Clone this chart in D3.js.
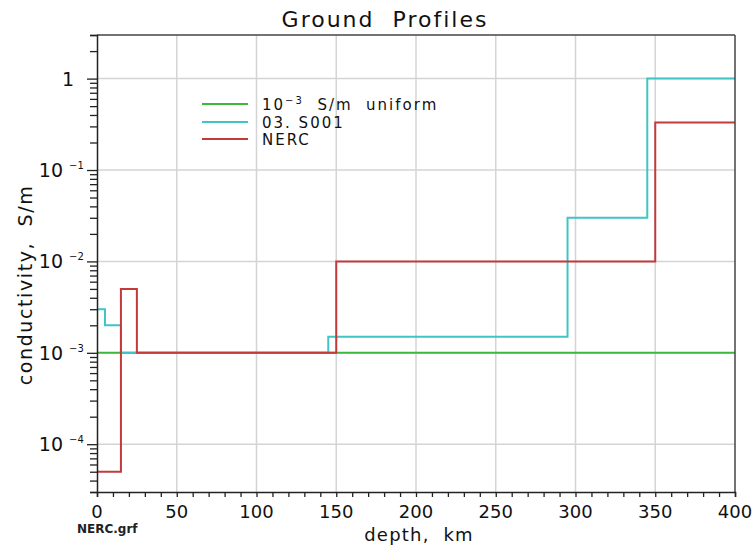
<!DOCTYPE html>
<html><head><meta charset="utf-8">
<script src="https://cdn.jsdelivr.net/npm/d3@7"></script>
<style>
body{margin:0;background:#fff;}
svg{display:block;font-family:"DejaVu Sans",sans-serif;}
text{white-space:pre;}
</style></head>
<body>
<svg id="c" width="756" height="547"></svg>
<script>
// ---- data ----
const xTicks = [0,50,100,150,200,250,300,350,400];
const yDecades = [1,0.1,0.01,0.001,0.0001];
const yDecadeExp = ["", "−1","−2","−3","−4"];
const seriesNames = ["10^-3 S/m uniform","03. S001","NERC"];
const uniformDepths = [0,400];
const uniformValues = [0.001];
const s001Depths = [0,5,15,145,295,345,400];
const s001Values = [0.003,0.002,0.001,0.0015,0.03,1];
const nercDepths = [0,15,25,150,350,400];
const nercValues = [0.00005,0.005,0.001,0.01,0.33];

const svg = d3.select("#c");
const L=97,R=735,T=35,B=492;
const x = d3.scaleLinear().domain([0,400]).range([L,R]);
const y = d3.scaleLog().domain([3e-5,3]).range([B,T]);

// grid
const g = svg.append("g");
g.selectAll(".vg").data(xTicks.slice(1,-1)).enter().append("line")
 .attr("x1",d=>x(d)).attr("x2",d=>x(d)).attr("y1",T).attr("y2",B)
 .attr("stroke","#d4d4d4").attr("stroke-width",1.5);
g.selectAll(".hg").data(yDecades).enter().append("line")
 .attr("x1",L).attr("x2",R).attr("y1",d=>y(d)).attr("y2",d=>y(d))
 .attr("stroke","#d4d4d4").attr("stroke-width",1.5);

// series
function steps(depths, values){
  const pts = values.map((v,i)=>({d:depths[i],v:v}));
  pts.push({d:depths[depths.length-1], v:values[values.length-1]});
  return pts;
}
const line = d3.line().x(p=>x(p.d)).y(p=>y(p.v)).curve(d3.curveStepAfter);
const series = [
  {pts:steps(uniformDepths,uniformValues), color:"#3cb83c"},
  {pts:steps(s001Depths,s001Values), color:"#40c4c4"},
  {pts:steps(nercDepths,nercValues), color:"#c23a3a"}
];
series.forEach(s=>{
  svg.append("path").attr("d",line(s.pts)).attr("fill","none")
   .attr("stroke",s.color).attr("stroke-width",2);
});

// frame
svg.append("line").attr("x1",L).attr("x2",R).attr("y1",T).attr("y2",T).attr("stroke","#444").attr("stroke-width",1.5);
svg.append("line").attr("x1",R).attr("x2",R).attr("y1",T).attr("y2",B).attr("stroke","#444").attr("stroke-width",1.5);

// x axis
const xAxis = d3.axisBottom(x).tickValues(d3.range(0,401,10)).tickSize(5).tickFormat("");
const xa = svg.append("g").attr("transform",`translate(0,${B})`).call(xAxis);
xa.select(".domain").attr("stroke","#222").attr("stroke-width",1.5);
xa.selectAll(".tick line").attr("stroke","#222").attr("stroke-width",1.3);
svg.selectAll(".xl").data(xTicks).enter().append("text")
 .attr("x",d=>x(d)).attr("y",518).attr("text-anchor","middle")
 .attr("font-size",18).attr("fill","#111").text(d=>d);

// y axis
const minor = [];
for(let e=-5;e<=0;e++){ for(let m=1;m<=9;m++){ const v=m*Math.pow(10,e); if(v>=3e-5 && v<=3) minor.push(v);} }
const yAxis = d3.axisLeft(y).tickValues(minor).tickSize(7).tickFormat("");
const ya = svg.append("g").attr("transform",`translate(${L},0)`).call(yAxis);
ya.select(".domain").attr("stroke","#222").attr("stroke-width",1.5);
ya.selectAll(".tick line").attr("stroke","#222").attr("stroke-width",1.3)
  .attr("x2",d=>yDecades.includes(d)? -10 : -7);
yDecades.forEach((d,i)=>{
  if(i===0){
    svg.append("text").attr("x",74).attr("y",y(d)+7).attr("text-anchor","end")
     .attr("font-size",19).attr("fill","#111").text("1");
  } else {
    svg.append("text").attr("x",63).attr("y",y(d)+7).attr("text-anchor","end")
     .attr("font-size",19).attr("fill","#111").text("10");
    svg.append("text").attr("x",69).attr("y",y(d)-1).attr("text-anchor","start")
     .attr("font-size",10).attr("fill","#111").text(yDecadeExp[i]);
  }
});

// titles
svg.append("text").attr("x",385).attr("y",27).attr("text-anchor","middle")
 .attr("font-size",22).attr("letter-spacing",2).attr("fill","#111").text("Ground  Profiles");
svg.append("text").attr("x",419).attr("y",541).attr("text-anchor","middle")
 .attr("font-size",18).attr("letter-spacing",1.2).attr("fill","#111").text("depth,  km");
svg.append("text").attr("transform","translate(32,285) rotate(-90)").attr("text-anchor","middle")
 .attr("font-size",19).attr("letter-spacing",1.6).attr("fill","#111").text("conductivity,  S/m");
svg.append("text").attr("x",77).attr("y",533).attr("font-size",12).attr("font-weight","bold")
 .attr("fill","#222").text("NERC.grf");

// legend
const legY=[104,122,139];
series.forEach((s,i)=>{
  svg.append("line").attr("x1",202).attr("x2",248).attr("y1",legY[i]).attr("y2",legY[i])
   .attr("stroke",s.color).attr("stroke-width",2);
});
const t0 = svg.append("text").attr("x",262).attr("y",legY[0]+6).attr("font-size",15).attr("letter-spacing",2).attr("fill","#111");
t0.append("tspan").text("10");
t0.append("tspan").attr("font-size",10).attr("dy",-6).text("−3");
t0.append("tspan").attr("dy",6).text("  S/m  uniform");
[1,2].forEach(i=>{
  svg.append("text").attr("x",262).attr("y",legY[i]+6).attr("font-size",15).attr("letter-spacing",2)
   .attr("fill","#111").text(seriesNames[i]);
});
</script>
</body></html>
